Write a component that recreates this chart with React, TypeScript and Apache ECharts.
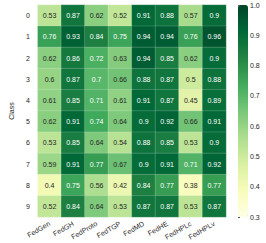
import React, { useEffect, useRef } from "react";
import * as echarts from "echarts";

const methods = ["FedGen", "FedGH", "FedProto", "FedTGP", "FedMD", "FedHE", "FedHPLc", "FedHPLv"];
const classes = ["0", "1", "2", "3", "4", "5", "6", "7", "8", "9"];
const values: number[][] = [
  [0.53, 0.87, 0.62, 0.52, 0.91, 0.88, 0.57, 0.9],
  [0.76, 0.93, 0.84, 0.75, 0.94, 0.94, 0.76, 0.96],
  [0.62, 0.86, 0.72, 0.63, 0.94, 0.85, 0.62, 0.9],
  [0.6, 0.87, 0.7, 0.66, 0.88, 0.87, 0.5, 0.88],
  [0.61, 0.85, 0.71, 0.61, 0.91, 0.87, 0.45, 0.89],
  [0.62, 0.91, 0.74, 0.64, 0.9, 0.92, 0.66, 0.91],
  [0.53, 0.85, 0.64, 0.54, 0.88, 0.85, 0.53, 0.9],
  [0.59, 0.91, 0.77, 0.67, 0.9, 0.91, 0.71, 0.92],
  [0.4, 0.75, 0.56, 0.42, 0.84, 0.77, 0.38, 0.77],
  [0.52, 0.84, 0.64, 0.53, 0.87, 0.87, 0.53, 0.87],
];
const colorbarTicks = [0.3, 0.4, 0.5, 0.6, 0.7, 0.8, 0.9, 1.0];
const ylgn = ["#ffffe5", "#f7fcb9", "#d9f0a3", "#addd8e", "#78c679", "#41ab5d", "#238443", "#006837", "#004529"];
const FONT = "Liberation Sans";

export default function App() {
  const ref = useRef<HTMLDivElement>(null);
  useEffect(() => {
    if (!ref.current) return;
    const chart = echarts.init(ref.current, undefined, { renderer: "svg" });
    const data: any[] = [];
    values.forEach((row, r) =>
      row.forEach((v, c) => {
        data.push({
          value: [c, r, v],
          label: { color: v >= 0.69 ? "#ffffff" : "#262626" },
        });
      })
    );
    chart.setOption({
      animation: false,
      textStyle: { fontFamily: FONT },
      grid: [
        { left: 24, top: 5, width: 202, height: 212 },
        { left: 238, top: 5, width: 10, height: 212 },
      ],
      xAxis: [
        {
          type: "category",
          data: methods,
          gridIndex: 0,
          axisLine: { show: false },
          axisTick: { show: false },
          axisLabel: { rotate: 30, fontSize: 7, color: "#262626", margin: 6, fontFamily: FONT, interval: 0 },
        },
        { type: "value", gridIndex: 1, show: false, min: 0, max: 1 },
      ],
      yAxis: [
        {
          type: "category",
          data: classes,
          inverse: true,
          gridIndex: 0,
          axisLine: { show: false },
          axisTick: { show: false },
          axisLabel: { fontSize: 7, color: "#262626", margin: 8, fontFamily: FONT },
          name: "Class",
          nameLocation: "middle",
          nameRotate: 90,
          nameGap: 14,
          nameTextStyle: { fontSize: 7, color: "#262626", fontFamily: FONT },
        },
        {
          type: "value",
          gridIndex: 1,
          position: "right",
          min: colorbarTicks[0],
          max: colorbarTicks[colorbarTicks.length - 1],
          interval: 0.1,
          splitLine: { show: false },
          axisLine: { show: false },
          axisTick: { show: true, length: 2, lineStyle: { color: "#262626", width: 0.8 } },
          axisLabel: {
            fontSize: 7,
            color: "#262626",
            margin: 2,
            fontFamily: FONT,
            showMinLabel: true,
            showMaxLabel: true,
            formatter: (v: number) => v.toFixed(1),
          },
        },
      ],
      visualMap: {
        type: "continuous",
        min: 0.3,
        max: 1.0,
        seriesIndex: 0,
        left: 238,
        top: 5,
        itemWidth: 10,
        itemHeight: 212,
        padding: 0,
        text: ["", ""],
        showLabel: false,
        calculable: false,
        inRange: { color: ylgn },
      },
      series: [
        {
          type: "heatmap",
          xAxisIndex: 0,
          yAxisIndex: 0,
          data,
          itemStyle: { borderColor: "rgba(255,255,255,0.35)", borderWidth: 0.5 },
          label: { show: true, fontSize: 7, fontFamily: FONT, formatter: (p: any) => String(p.value[2]) },
          emphasis: { disabled: true },
        },
        {
          type: "scatter",
          xAxisIndex: 1,
          yAxisIndex: 1,
          data: [],
        },
      ],
    });
    return () => chart.dispose();
  }, []);
  return <div ref={ref} style={{ position: "absolute", left: 0, top: 0, width: 266, height: 243 }} />;
}
